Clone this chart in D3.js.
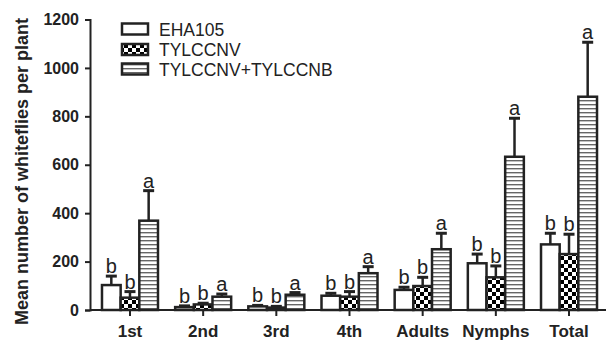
<!DOCTYPE html>
<html><head><meta charset="utf-8">
<script src="https://cdn.jsdelivr.net/npm/d3@7"></script>
<style>
html,body{margin:0;padding:0;background:#fff;}
svg{display:block;font-family:Arial,"Liberation Sans",Helvetica,sans-serif;}
</style></head>
<body>
<svg id="c" width="606" height="341"></svg>
<script>
const categories = ["1st","2nd","3rd","4th","Adults","Nymphs","Total"];
const seriesNames = ["EHA105","TYLCCNV","TYLCCNV+TYLCCNB"];
const meanEHA105 = [103, 12, 15, 59, 83, 193, 271];
const errEHA105  = [37, 5, 4, 10, 11, 38, 46];
const meanTYLCCNV = [51, 23, 10, 55, 99, 135, 231];
const errTYLCCNV  = [25, 5, 5, 21, 36, 47, 82];
const meanBoth = [369, 55, 63, 152, 251, 633, 881];
const errBoth  = [124, 11, 9, 27, 66, 159, 225];
const lettersEHA105 = ["b","b","b","b","b","b","b"];
const lettersTYLCCNV = ["b","b","b","b","b","b","b"];
const lettersBoth = ["a","a","a","a","a","a","a"];
const yTicks = [0,200,400,600,800,1000,1200];

const means = [meanEHA105, meanTYLCCNV, meanBoth];
const errs = [errEHA105, errTYLCCNV, errBoth];
const letters = [lettersEHA105, lettersTYLCCNV, lettersBoth];

const svg = d3.select("#c");
const defs = svg.append("defs");
const pc = defs.append("pattern").attr("id","checker").attr("patternUnits","userSpaceOnUse")
  .attr("width",8).attr("height",8);
pc.append("rect").attr("width",8).attr("height",8).attr("fill","#fff");
pc.append("rect").attr("x",0).attr("y",0).attr("width",4).attr("height",4).attr("fill","#000");
pc.append("rect").attr("x",4).attr("y",4).attr("width",4).attr("height",4).attr("fill","#000");
const ps = defs.append("pattern").attr("id","stripes").attr("patternUnits","userSpaceOnUse")
  .attr("width",8).attr("height",4);
ps.append("rect").attr("width",8).attr("height",4).attr("fill","#fff");
ps.append("rect").attr("x",0).attr("y",0).attr("width",8).attr("height",1.4).attr("fill","#666");
const fills = ["#fff","url(#checker)","url(#stripes)"];

const y = d3.scaleLinear().domain([0,1200]).range([310,19.5]);
const x0 = d3.scaleBand().domain(categories).range([93.4,605.6]).paddingInner(0).paddingOuter(0);
const groupW = 56;
const x1 = d3.scaleBand().domain(seriesNames).range([0,groupW]);

seriesNames.forEach((s,si)=>{
  const g = svg.append("g");
  categories.forEach((c,ci)=>{
    const cx = x0(c) + x0.bandwidth()/2 - groupW/2 + x1(s);
    const w = x1.bandwidth();
    const v = means[si][ci], e = errs[si][ci];
    g.append("line").attr("x1",cx+w/2).attr("x2",cx+w/2)
      .attr("y1",y(v)).attr("y2",y(v+e)).attr("stroke","#222").attr("stroke-width",2.5);
    g.append("line").attr("x1",cx+w/2-5.5).attr("x2",cx+w/2+5.5)
      .attr("y1",y(v+e)).attr("y2",y(v+e)).attr("stroke","#222").attr("stroke-width",3);
    g.append("rect").attr("x",cx).attr("y",y(v)).attr("width",w).attr("height",y(0)-y(v))
      .attr("fill",fills[si]).attr("stroke","#222").attr("stroke-width",2.5);
    g.append("text").attr("x",cx+w/2).attr("y",y(v+e)-3).attr("text-anchor","middle")
      .attr("font-size",20).attr("fill","#222").text(letters[si][ci]);
  });
});

const yAxis = svg.append("g").attr("transform","translate(90,0)")
  .call(d3.axisLeft(y).tickValues(yTicks).tickSize(5).tickPadding(6).tickFormat(d3.format("d")));
yAxis.select(".domain").attr("stroke","#222").attr("stroke-width",2);
yAxis.selectAll(".tick line").attr("stroke","#222").attr("stroke-width",2);
yAxis.selectAll("text").attr("font-size",16).attr("font-weight","bold").attr("fill","#222")
  .attr("font-family","Arial,'Liberation Sans',sans-serif");

const xAxis = svg.append("g").attr("transform","translate(0,310)")
  .call(d3.axisBottom(x0).tickSize(6).tickSizeOuter(0).tickPadding(9));
xAxis.select(".domain").attr("d","M90,0H606").attr("stroke","#222").attr("stroke-width",2);
xAxis.selectAll(".tick line").attr("stroke","#222").attr("stroke-width",2);
xAxis.selectAll("text").attr("font-size",17).attr("font-weight","bold").attr("fill","#222")
  .attr("font-family","Arial,'Liberation Sans',sans-serif");

svg.append("text").attr("transform","translate(22,171.5) rotate(-90)")
  .attr("text-anchor","middle").attr("dominant-baseline","central")
  .attr("font-size",18).attr("font-weight","bold").attr("fill","#222")
  .text("Mean number of whiteflies per plant");

const legY = [29, 49.5, 69];
seriesNames.forEach((s,i)=>{
  svg.append("rect").attr("x",122).attr("y",legY[i]-5.5).attr("width",26).attr("height",11)
    .attr("fill",fills[i]).attr("stroke","#222").attr("stroke-width",2.5);
  svg.append("text").attr("x",159).attr("y",legY[i]+6.5).attr("font-size",17.5).attr("fill","#222")
    .text(s);
});
</script>
</body></html>
